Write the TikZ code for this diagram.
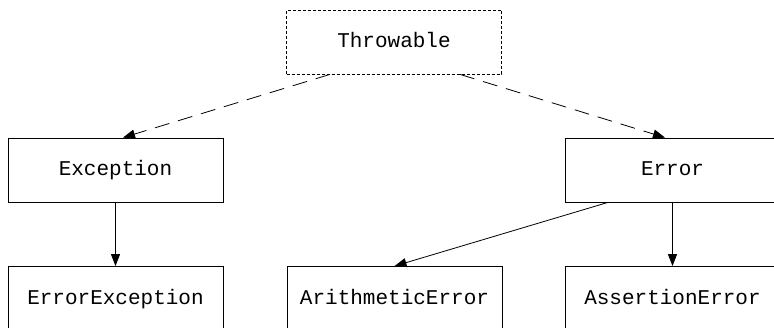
\documentclass[tikz,border=0pt]{standalone}
\usepackage{fontspec}
\setmonofont{Liberation Mono}
\usetikzlibrary{arrows.meta}
\begin{document}
\begin{tikzpicture}[x=1pt, y=-1pt, font=\ttfamily\fontsize{21}{25}\selectfont,
      >={Triangle[length=12pt,width=9pt]},
      box/.style={draw, line width=0.8pt, minimum width=215pt, minimum height=64pt,
        inner sep=0pt, text height=12pt, text depth=0pt},
      abstractbox/.style={box, dash pattern=on 3pt off 2pt},
      inherit/.style={->, line width=0.8pt},
      impl/.style={->, line width=0.8pt, dash pattern=on 15pt off 9pt}]
    \useasboundingbox (0,0) rectangle (774,328);
    \node[abstractbox] (thr) at (394,42) {Throwable};
    \node[box] (exc) at (115.5,170) {Exception};
    \node[box] (err) at (672.5,170) {Error};
    \node[box] (errexc) at (115.5,298.5) {ErrorException};
    \node[box] (arith) at (394.5,298.5) {ArithmeticError};
    \node[box] (assert) at (672.5,298.5) {AssertionError};
    \draw[impl] ([xshift=-64pt]thr.south) -- ([xshift=7.5pt]exc.north);
    \draw[impl] ([xshift=66pt]thr.south) -- ([xshift=-7.5pt]err.north);
    \draw[inherit] (exc) -- (errexc);
    \draw[inherit] ([xshift=-64.5pt]err.south) -- (arith.north);
    \draw[inherit] (err) -- (assert);
\end{tikzpicture}
\end{document}
